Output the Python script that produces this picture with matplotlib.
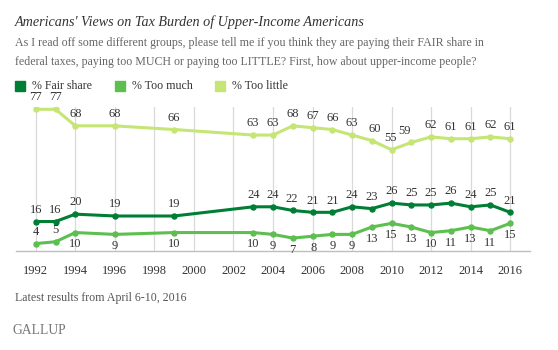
import matplotlib
matplotlib.use('Agg')
import matplotlib.pyplot as plt
from matplotlib.patches import Rectangle

# ── Data ──────────────────────────────────────────────────────────────────────
years = [1992, 1993, 1994, 1996, 1999, 2003, 2004, 2005, 2006, 2007,
         2008, 2009, 2010, 2011, 2012, 2013, 2014, 2015, 2016]
too_little = [77, 77, 68, 68, 66, 63, 63, 68, 67, 66,
              63, 60, 55, 59, 62, 61, 61, 62, 61]
fair_share = [16, 16, 20, 19, 19, 24, 24, 22, 21, 21,
              24, 23, 26, 25, 25, 26, 24, 25, 21]
too_much = [4, 5, 10, 9, 10, 10, 9, 7, 8, 9,
            9, 13, 15, 13, 10, 11, 13, 11, 15]
tick_years = list(range(1992, 2017, 2))

C_FAIR = '#007E36'
C_MUCH = '#5CBF4F'
C_LITTLE = '#C5E574'
TXT = '#333333'
SERIF = 'Liberation Serif'

plt.rcParams.update({'font.family': SERIF})

fig = plt.figure(figsize=(5.58, 3.5), dpi=100)
fig.patch.set_facecolor('white')
ax = fig.add_axes([0.0287, 0.283, 0.921, 0.41])

for yr in tick_years:
    ax.axvline(yr, color='#d9d9d9', lw=0.9, zorder=0)

series = [
    (too_little, C_LITTLE),
    (fair_share, C_FAIR),
    (too_much, C_MUCH),
]
for vals, col in series:
    ax.plot(years, vals, color=col, lw=2.2, marker='o', ms=3.6,
            solid_joinstyle='round', zorder=3)

# labels
def label(x, y, txt, dy, dx=0):
    ax.annotate(txt, (x, y), xytext=(dx, dy), textcoords='offset points',
                ha='center', va='center', fontsize=9, color=TXT)

little_dx = {2009: 2, 2010: -1, 2011: -5}
fair_dx = {2005: -1}
much_dx = {2006: 1}
for x, v in zip(years, too_little):
    label(x, v, str(v), 8.5, little_dx.get(x, 0))
for x, v in zip(years, fair_share):
    label(x, v, str(v), 8.5, fair_dx.get(x, 0))
for x, v in zip(years, too_much):
    if x in (1992, 1993):
        label(x, v, str(v), 8.5)
    else:
        label(x, v, str(v), -8.5, much_dx.get(x, 0))

ax.set_xlim(1991, 2017)
ax.set_ylim(0, 78)
ax.set_xticks(tick_years)
ax.set_xticklabels([str(y) for y in tick_years], fontsize=9, color=TXT)
ax.tick_params(axis='x', length=0, pad=10)
ax.set_yticks([])
for s in ['top', 'right', 'left']:
    ax.spines[s].set_visible(False)
ax.spines['bottom'].set_color('#bfbfbf')
ax.spines['bottom'].set_linewidth(1.0)

# ── Header ────────────────────────────────────────────────────────────────────
fig.text(15 / 558, 1 - 22 / 350, "Americans' Views on Tax Burden of Upper-Income Americans",
         fontsize=10.2, style='italic', color=TXT, va='center', ha='left')
fig.text(15 / 558, 1 - 43 / 350,
         "As I read off some different groups, please tell me if you think they are paying their FAIR share in",
         fontsize=8.6, color='#666666', va='center', ha='left')
fig.text(15 / 558, 1 - 62 / 350,
         "federal taxes, paying too MUCH or paying too LITTLE? First, how about upper-income people?",
         fontsize=8.6, color='#666666', va='center', ha='left')

legend_items = [('% Fair share', C_FAIR, 15), ('% Too much', C_MUCH, 115),
                ('% Too little', C_LITTLE, 215)]
for name, col, px in legend_items:
    fig.patches.append(Rectangle((px / 558, 1 - 91 / 350), 10 / 558, 10 / 350,
                                 transform=fig.transFigure, color=col))
    fig.text((px + 17) / 558, 1 - 86 / 350, name, fontsize=8.6, color=TXT,
             va='center', ha='left')

fig.text(15 / 558, 1 - 298 / 350, "Latest results from April 6-10, 2016",
         fontsize=8.6, color='#555555', va='center', ha='left')
fig.text(12 / 558, 1 - 330 / 350, "GALLUP", fontsize=9.8, color='#777777',
         va='center', ha='left')

fig.savefig('out.png', dpi=100, facecolor='white')
